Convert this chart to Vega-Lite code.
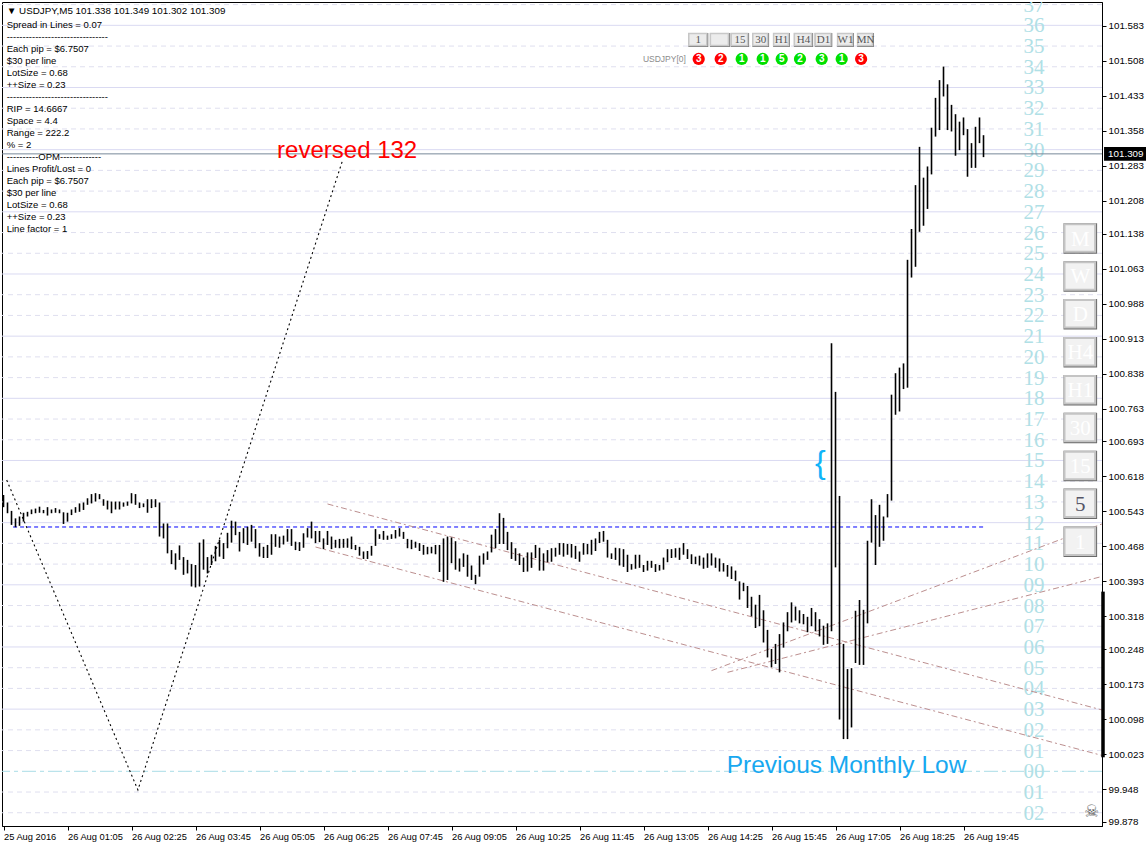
{
 "$schema": "https://vega.github.io/schema/vega-lite/v6.json",
 "width": 1100, "height": 824,
 "autosize": {"type": "none"},
 "padding": {"left": 2, "top": 2, "right": 44, "bottom": 21},
 "background": "white",
 "datasets": {
  "levels": [
   {"k":"02","p":99.8972,"c":"minor"},{"k":"01","p":99.9416,"c":"minor"},{"k":"00","p":99.9860,"c":"zero"},
   {"k":"01","p":100.0304,"c":"minor"},{"k":"02","p":100.0748,"c":"minor"},{"k":"03","p":100.1192,"c":"major"},
   {"k":"04","p":100.1636,"c":"minor"},{"k":"05","p":100.2080,"c":"minor"},{"k":"06","p":100.2524,"c":"major"},
   {"k":"07","p":100.2968,"c":"minor"},{"k":"08","p":100.3412,"c":"minor"},{"k":"09","p":100.3856,"c":"major"},
   {"k":"10","p":100.4300,"c":"minor"},{"k":"11","p":100.4744,"c":"minor"},{"k":"12","p":100.5188,"c":"major"},
   {"k":"13","p":100.5632,"c":"minor"},{"k":"14","p":100.6076,"c":"minor"},{"k":"15","p":100.6520,"c":"major"},
   {"k":"16","p":100.6964,"c":"minor"},{"k":"17","p":100.7408,"c":"minor"},{"k":"18","p":100.7852,"c":"major"},
   {"k":"19","p":100.8296,"c":"minor"},{"k":"20","p":100.8740,"c":"minor"},{"k":"21","p":100.9184,"c":"major"},
   {"k":"22","p":100.9628,"c":"minor"},{"k":"23","p":101.0072,"c":"minor"},{"k":"24","p":101.0516,"c":"major"},
   {"k":"25","p":101.0960,"c":"minor"},{"k":"26","p":101.1404,"c":"minor"},{"k":"27","p":101.1848,"c":"major"},
   {"k":"28","p":101.2292,"c":"minor"},{"k":"29","p":101.2736,"c":"minor"},{"k":"30","p":101.3180,"c":"major"},
   {"k":"31","p":101.3624,"c":"minor"},{"k":"32","p":101.4068,"c":"minor"},{"k":"33","p":101.4512,"c":"major"},
   {"k":"34","p":101.4956,"c":"minor"},{"k":"35","p":101.5400,"c":"minor"},{"k":"36","p":101.5844,"c":"major"},
   {"k":"37","p":101.6288,"c":"minor"}
  ],
  "openline": [{"t1":"2016-08-25T23:57","t2":"2016-08-26T20:12","p":100.5095}],
  "bid": [{"p":101.309,"s":"101.309","t1":"2016-08-26T22:40:40","t2":"2016-08-26T23:35","tc":"2016-08-26T23:07:50","p1":101.3235,"p2":101.2945}],
  "trend": [
   {"id":"A","t":"2016-08-26T06:30","p":100.5588},{"id":"A","t":"2016-08-26T22:38:07","p":100.1174},
   {"id":"B","t":"2016-08-26T06:15","p":100.4666},{"id":"B","t":"2016-08-26T22:38:07","p":100.0200},
   {"id":"C","t":"2016-08-26T14:30","p":100.2017},{"id":"C","t":"2016-08-26T22:38:07","p":100.5160},
   {"id":"D","t":"2016-08-26T14:50","p":100.1980},{"id":"D","t":"2016-08-26T22:38:07","p":100.4035}
  ],
  "zigzag": [
   {"t":"2016-08-25T23:49","p":100.610},{"t":"2016-08-26T02:33","p":99.946},{"t":"2016-08-26T06:49","p":101.296}
  ],
  "spread": [{"t":"2016-08-26T22:38:07","h":100.371,"l":100.016}],
  "bars": [
   {"t":"2016-08-25T23:45","h":100.578,"l":100.552},{"t":"2016-08-25T23:50","h":100.562,"l":100.539},{"t":"2016-08-25T23:55","h":100.544,"l":100.514},
   {"t":"2016-08-26T00:00","h":100.528,"l":100.509},{"t":"2016-08-26T00:05","h":100.532,"l":100.512},{"t":"2016-08-26T00:10","h":100.540,"l":100.521},
   {"t":"2016-08-26T00:15","h":100.542,"l":100.532},{"t":"2016-08-26T00:20","h":100.547,"l":100.537},{"t":"2016-08-26T00:25","h":100.549,"l":100.539},
   {"t":"2016-08-26T00:30","h":100.553,"l":100.540},{"t":"2016-08-26T00:35","h":100.546,"l":100.539},{"t":"2016-08-26T00:40","h":100.552,"l":100.534},
   {"t":"2016-08-26T00:45","h":100.547,"l":100.539},{"t":"2016-08-26T00:50","h":100.550,"l":100.540},{"t":"2016-08-26T00:55","h":100.547,"l":100.539},
   {"t":"2016-08-26T01:00","h":100.541,"l":100.516},{"t":"2016-08-26T01:05","h":100.540,"l":100.521},{"t":"2016-08-26T01:10","h":100.547,"l":100.535},
   {"t":"2016-08-26T01:15","h":100.552,"l":100.540},{"t":"2016-08-26T01:20","h":100.560,"l":100.542},{"t":"2016-08-26T01:25","h":100.562,"l":100.546},
   {"t":"2016-08-26T01:30","h":100.571,"l":100.557},{"t":"2016-08-26T01:35","h":100.580,"l":100.560},{"t":"2016-08-26T01:40","h":100.582,"l":100.564},
   {"t":"2016-08-26T01:45","h":100.580,"l":100.569},{"t":"2016-08-26T01:50","h":100.569,"l":100.555},{"t":"2016-08-26T01:55","h":100.566,"l":100.547},
   {"t":"2016-08-26T02:00","h":100.564,"l":100.539},{"t":"2016-08-26T02:05","h":100.564,"l":100.547},{"t":"2016-08-26T02:10","h":100.564,"l":100.547},
   {"t":"2016-08-26T02:15","h":100.562,"l":100.553},{"t":"2016-08-26T02:20","h":100.564,"l":100.555},{"t":"2016-08-26T02:25","h":100.582,"l":100.560},
   {"t":"2016-08-26T02:30","h":100.580,"l":100.557},{"t":"2016-08-26T02:35","h":100.562,"l":100.550},{"t":"2016-08-26T02:40","h":100.560,"l":100.552},
   {"t":"2016-08-26T02:45","h":100.569,"l":100.540},{"t":"2016-08-26T02:50","h":100.569,"l":100.550},{"t":"2016-08-26T02:55","h":100.569,"l":100.552},
   {"t":"2016-08-26T03:00","h":100.562,"l":100.489},{"t":"2016-08-26T03:05","h":100.517,"l":100.485},{"t":"2016-08-26T03:10","h":100.517,"l":100.453},
   {"t":"2016-08-26T03:15","h":100.460,"l":100.430},{"t":"2016-08-26T03:20","h":100.453,"l":100.418},{"t":"2016-08-26T03:25","h":100.470,"l":100.439},
   {"t":"2016-08-26T03:30","h":100.445,"l":100.407},{"t":"2016-08-26T03:35","h":100.439,"l":100.410},{"t":"2016-08-26T03:40","h":100.430,"l":100.382},
   {"t":"2016-08-26T03:45","h":100.428,"l":100.380},{"t":"2016-08-26T03:50","h":100.476,"l":100.382},{"t":"2016-08-26T03:55","h":100.483,"l":100.418},
   {"t":"2016-08-26T04:00","h":100.445,"l":100.410},{"t":"2016-08-26T04:05","h":100.450,"l":100.428},{"t":"2016-08-26T04:10","h":100.469,"l":100.436},
   {"t":"2016-08-26T04:15","h":100.482,"l":100.446},{"t":"2016-08-26T04:20","h":100.475,"l":100.441},{"t":"2016-08-26T04:25","h":100.497,"l":100.464},
   {"t":"2016-08-26T04:30","h":100.523,"l":100.476},{"t":"2016-08-26T04:35","h":100.521,"l":100.492},{"t":"2016-08-26T04:40","h":100.499,"l":100.457},
   {"t":"2016-08-26T04:45","h":100.507,"l":100.475},{"t":"2016-08-26T04:50","h":100.510,"l":100.471},{"t":"2016-08-26T04:55","h":100.514,"l":100.478},
   {"t":"2016-08-26T05:00","h":100.505,"l":100.464},{"t":"2016-08-26T05:05","h":100.475,"l":100.446},{"t":"2016-08-26T05:10","h":100.467,"l":100.443},
   {"t":"2016-08-26T05:15","h":100.471,"l":100.443},{"t":"2016-08-26T05:20","h":100.494,"l":100.450},{"t":"2016-08-26T05:25","h":100.494,"l":100.467},
   {"t":"2016-08-26T05:30","h":100.489,"l":100.465},{"t":"2016-08-26T05:35","h":100.491,"l":100.472},{"t":"2016-08-26T05:40","h":100.505,"l":100.478},
   {"t":"2016-08-26T05:45","h":100.505,"l":100.469},{"t":"2016-08-26T05:50","h":100.478,"l":100.460},{"t":"2016-08-26T05:55","h":100.477,"l":100.458},
   {"t":"2016-08-26T06:00","h":100.496,"l":100.465},{"t":"2016-08-26T06:05","h":100.507,"l":100.487},{"t":"2016-08-26T06:10","h":100.521,"l":100.485},
   {"t":"2016-08-26T06:15","h":100.501,"l":100.475},{"t":"2016-08-26T06:20","h":100.501,"l":100.477},{"t":"2016-08-26T06:25","h":100.485,"l":100.462},
   {"t":"2016-08-26T06:30","h":100.501,"l":100.471},{"t":"2016-08-26T06:35","h":100.489,"l":100.462},{"t":"2016-08-26T06:40","h":100.482,"l":100.465},
   {"t":"2016-08-26T06:45","h":100.484,"l":100.464},{"t":"2016-08-26T06:50","h":100.484,"l":100.465},{"t":"2016-08-26T06:55","h":100.485,"l":100.465},
   {"t":"2016-08-26T07:00","h":100.489,"l":100.462},{"t":"2016-08-26T07:05","h":100.471,"l":100.460},{"t":"2016-08-26T07:10","h":100.467,"l":100.448},
   {"t":"2016-08-26T07:15","h":100.457,"l":100.441},{"t":"2016-08-26T07:20","h":100.458,"l":100.441},{"t":"2016-08-26T07:25","h":100.469,"l":100.448},
   {"t":"2016-08-26T07:30","h":100.505,"l":100.469},{"t":"2016-08-26T07:35","h":100.494,"l":100.484},{"t":"2016-08-26T07:40","h":100.501,"l":100.482},
   {"t":"2016-08-26T07:45","h":100.491,"l":100.482},{"t":"2016-08-26T07:50","h":100.494,"l":100.484},{"t":"2016-08-26T07:55","h":100.503,"l":100.485},
   {"t":"2016-08-26T08:00","h":100.507,"l":100.489},{"t":"2016-08-26T08:05","h":100.499,"l":100.484},{"t":"2016-08-26T08:10","h":100.484,"l":100.464},
   {"t":"2016-08-26T08:15","h":100.482,"l":100.462},{"t":"2016-08-26T08:20","h":100.478,"l":100.465},{"t":"2016-08-26T08:25","h":100.475,"l":100.458},
   {"t":"2016-08-26T08:30","h":100.471,"l":100.450},{"t":"2016-08-26T08:35","h":100.467,"l":100.451},{"t":"2016-08-26T08:40","h":100.467,"l":100.453},
   {"t":"2016-08-26T08:45","h":100.471,"l":100.451},{"t":"2016-08-26T08:50","h":100.471,"l":100.413},{"t":"2016-08-26T08:55","h":100.485,"l":100.392},
   {"t":"2016-08-26T09:00","h":100.489,"l":100.396},{"t":"2016-08-26T09:05","h":100.487,"l":100.432},{"t":"2016-08-26T09:10","h":100.479,"l":100.418},
   {"t":"2016-08-26T09:15","h":100.442,"l":100.414},{"t":"2016-08-26T09:20","h":100.453,"l":100.424},{"t":"2016-08-26T09:25","h":100.450,"l":100.403},
   {"t":"2016-08-26T09:30","h":100.427,"l":100.396},{"t":"2016-08-26T09:35","h":100.407,"l":100.387},{"t":"2016-08-26T09:40","h":100.448,"l":100.403},
   {"t":"2016-08-26T09:45","h":100.453,"l":100.429},{"t":"2016-08-26T09:50","h":100.457,"l":100.439},{"t":"2016-08-26T09:55","h":100.493,"l":100.455},
   {"t":"2016-08-26T10:00","h":100.505,"l":100.464},{"t":"2016-08-26T10:05","h":100.539,"l":100.473},{"t":"2016-08-26T10:10","h":100.529,"l":100.473},
   {"t":"2016-08-26T10:15","h":100.499,"l":100.460},{"t":"2016-08-26T10:20","h":100.477,"l":100.441},{"t":"2016-08-26T10:25","h":100.464,"l":100.437},
   {"t":"2016-08-26T10:30","h":100.453,"l":100.428},{"t":"2016-08-26T10:35","h":100.444,"l":100.413},{"t":"2016-08-26T10:40","h":100.455,"l":100.414},
   {"t":"2016-08-26T10:45","h":100.455,"l":100.422},{"t":"2016-08-26T10:50","h":100.471,"l":100.443},{"t":"2016-08-26T10:55","h":100.465,"l":100.416},
   {"t":"2016-08-26T11:00","h":100.453,"l":100.416},{"t":"2016-08-26T11:05","h":100.460,"l":100.434},{"t":"2016-08-26T11:10","h":100.464,"l":100.435},
   {"t":"2016-08-26T11:15","h":100.465,"l":100.446},{"t":"2016-08-26T11:20","h":100.475,"l":100.450},{"t":"2016-08-26T11:25","h":100.475,"l":100.446},
   {"t":"2016-08-26T11:30","h":100.473,"l":100.450},{"t":"2016-08-26T11:35","h":100.473,"l":100.444},{"t":"2016-08-26T11:40","h":100.469,"l":100.441},
   {"t":"2016-08-26T11:45","h":100.457,"l":100.435},{"t":"2016-08-26T11:50","h":100.475,"l":100.450},{"t":"2016-08-26T11:55","h":100.473,"l":100.451},
   {"t":"2016-08-26T12:00","h":100.482,"l":100.450},{"t":"2016-08-26T12:05","h":100.485,"l":100.458},{"t":"2016-08-26T12:10","h":100.499,"l":100.475},
   {"t":"2016-08-26T12:15","h":100.501,"l":100.478},{"t":"2016-08-26T12:20","h":100.482,"l":100.444},{"t":"2016-08-26T12:25","h":100.453,"l":100.441},
   {"t":"2016-08-26T12:30","h":100.465,"l":100.439},{"t":"2016-08-26T12:35","h":100.464,"l":100.427},{"t":"2016-08-26T12:40","h":100.462,"l":100.424},
   {"t":"2016-08-26T12:45","h":100.450,"l":100.413},{"t":"2016-08-26T12:50","h":100.430,"l":100.418},{"t":"2016-08-26T12:55","h":100.450,"l":100.420},
   {"t":"2016-08-26T13:00","h":100.450,"l":100.422},{"t":"2016-08-26T13:05","h":100.428,"l":100.413},{"t":"2016-08-26T13:10","h":100.437,"l":100.416},
   {"t":"2016-08-26T13:15","h":100.437,"l":100.422},{"t":"2016-08-26T13:20","h":100.430,"l":100.413},{"t":"2016-08-26T13:25","h":100.428,"l":100.416},
   {"t":"2016-08-26T13:30","h":100.444,"l":100.418},{"t":"2016-08-26T13:35","h":100.462,"l":100.434},{"t":"2016-08-26T13:40","h":100.462,"l":100.443},
   {"t":"2016-08-26T13:45","h":100.464,"l":100.444},{"t":"2016-08-26T13:50","h":100.465,"l":100.439},{"t":"2016-08-26T13:55","h":100.475,"l":100.450},
   {"t":"2016-08-26T14:00","h":100.462,"l":100.441},{"t":"2016-08-26T14:05","h":100.451,"l":100.430},{"t":"2016-08-26T14:10","h":100.446,"l":100.430},
   {"t":"2016-08-26T14:15","h":100.448,"l":100.427},{"t":"2016-08-26T14:20","h":100.444,"l":100.420},{"t":"2016-08-26T14:25","h":100.453,"l":100.422},
   {"t":"2016-08-26T14:30","h":100.453,"l":100.427},{"t":"2016-08-26T14:35","h":100.444,"l":100.422},{"t":"2016-08-26T14:40","h":100.442,"l":100.414},
   {"t":"2016-08-26T14:45","h":100.432,"l":100.414},{"t":"2016-08-26T14:50","h":100.428,"l":100.403},{"t":"2016-08-26T14:55","h":100.425,"l":100.398},
   {"t":"2016-08-26T15:00","h":100.416,"l":100.394},{"t":"2016-08-26T15:05","h":100.393,"l":100.354},{"t":"2016-08-26T15:10","h":100.390,"l":100.372},
   {"t":"2016-08-26T15:15","h":100.383,"l":100.336},{"t":"2016-08-26T15:20","h":100.360,"l":100.318},{"t":"2016-08-26T15:25","h":100.343,"l":100.293},
   {"t":"2016-08-26T15:30","h":100.364,"l":100.297},{"t":"2016-08-26T15:35","h":100.331,"l":100.262},{"t":"2016-08-26T15:40","h":100.289,"l":100.230},
   {"t":"2016-08-26T15:45","h":100.248,"l":100.209},{"t":"2016-08-26T15:50","h":100.259,"l":100.216},{"t":"2016-08-26T15:55","h":100.280,"l":100.198},
   {"t":"2016-08-26T16:00","h":100.305,"l":100.251},{"t":"2016-08-26T16:05","h":100.327,"l":100.286},{"t":"2016-08-26T16:10","h":100.348,"l":100.305},
   {"t":"2016-08-26T16:15","h":100.339,"l":100.309},{"t":"2016-08-26T16:20","h":100.331,"l":100.303},{"t":"2016-08-26T16:25","h":100.323,"l":100.301},
   {"t":"2016-08-26T16:30","h":100.317,"l":100.284},{"t":"2016-08-26T16:35","h":100.336,"l":100.297},{"t":"2016-08-26T16:40","h":100.327,"l":100.286},
   {"t":"2016-08-26T16:45","h":100.312,"l":100.275},{"t":"2016-08-26T16:50","h":100.298,"l":100.257},{"t":"2016-08-26T16:55","h":100.303,"l":100.259},
   {"t":"2016-08-26T17:00","h":100.903,"l":100.286},{"t":"2016-08-26T17:05","h":100.799,"l":100.423},{"t":"2016-08-26T17:10","h":100.576,"l":100.097},
   {"t":"2016-08-26T17:15","h":100.259,"l":100.055},{"t":"2016-08-26T17:20","h":100.205,"l":100.055},{"t":"2016-08-26T17:25","h":100.207,"l":100.080},
   {"t":"2016-08-26T17:30","h":100.330,"l":100.218},{"t":"2016-08-26T17:35","h":100.353,"l":100.214},{"t":"2016-08-26T17:40","h":100.332,"l":100.214},
   {"t":"2016-08-26T17:45","h":100.480,"l":100.303},{"t":"2016-08-26T17:50","h":100.569,"l":100.476},{"t":"2016-08-26T17:55","h":100.535,"l":100.428},
   {"t":"2016-08-26T18:00","h":100.557,"l":100.467},{"t":"2016-08-26T18:05","h":100.532,"l":100.480},{"t":"2016-08-26T18:10","h":100.580,"l":100.530},
   {"t":"2016-08-26T18:15","h":100.793,"l":100.566},{"t":"2016-08-26T18:20","h":100.839,"l":100.750},{"t":"2016-08-26T18:25","h":100.851,"l":100.757},
   {"t":"2016-08-26T18:30","h":100.860,"l":100.805},{"t":"2016-08-26T18:35","h":101.082,"l":100.808},{"t":"2016-08-26T18:40","h":101.148,"l":101.044},
   {"t":"2016-08-26T18:45","h":101.242,"l":101.067},{"t":"2016-08-26T18:50","h":101.324,"l":101.142},{"t":"2016-08-26T18:55","h":101.258,"l":101.155},
   {"t":"2016-08-26T19:00","h":101.282,"l":101.191},{"t":"2016-08-26T19:05","h":101.365,"l":101.265},{"t":"2016-08-26T19:10","h":101.429,"l":101.346},
   {"t":"2016-08-26T19:15","h":101.467,"l":101.360},{"t":"2016-08-26T19:20","h":101.496,"l":101.432},{"t":"2016-08-26T19:25","h":101.458,"l":101.360},
   {"t":"2016-08-26T19:30","h":101.414,"l":101.357},{"t":"2016-08-26T19:35","h":101.394,"l":101.305},{"t":"2016-08-26T19:40","h":101.378,"l":101.317},
   {"t":"2016-08-26T19:45","h":101.387,"l":101.349},{"t":"2016-08-26T19:50","h":101.362,"l":101.260},{"t":"2016-08-26T19:55","h":101.332,"l":101.279},
   {"t":"2016-08-26T20:00","h":101.367,"l":101.279},{"t":"2016-08-26T20:05","h":101.387,"l":101.332},{"t":"2016-08-26T20:10","h":101.349,"l":101.302}
  ],
  "header": [{"t":"2016-08-25T23:49","p":101.6158,"s":"▼ USDJPY,M5  101.338 101.349 101.302 101.309"}],
  "panel": [{"t":"2016-08-25T23:49","p":101.5958,"lines":["Spread in Lines = 0.07","--------------------------------","Each pip = $6.7507","$30 per line","LotSize = 0.68","++Size = 0.23","--------------------------------","RIP = 14.6667","Space = 4.4","Range = 222.2","% = 2","----------OPM-------------","Lines Profit/Lost = 0","Each pip = $6.7507","$30 per line","LotSize = 0.68","++Size = 0.23","Line factor = 1"]}],
  "redtext": [{"t":"2016-08-26T05:27","p":101.300,"s":"reversed 132"}],
  "bluetext": [{"t":"2016-08-26T14:49","p":99.9824,"s":"Previous Monthly Low"}],
  "brace": [{"t":"2016-08-26T16:46","p":100.6456,"s":"{"}],
  "skull": [{"t":"2016-08-26T22:25","p":99.8985,"s":"☠"}],
  "rb": [
   {"b":"M","p1":101.1602,"p2":101.0949,"pc":101.1276,"sel":false,"t1":"2016-08-26T21:50","t2":"2016-08-26T22:32","tc":"2016-08-26T22:11"},
   {"b":"W","p1":101.0790,"p2":101.0137,"pc":101.0464,"sel":false,"t1":"2016-08-26T21:50","t2":"2016-08-26T22:32","tc":"2016-08-26T22:11"},
   {"b":"D","p1":100.9978,"p2":100.9325,"pc":100.9652,"sel":false,"t1":"2016-08-26T21:50","t2":"2016-08-26T22:32","tc":"2016-08-26T22:11"},
   {"b":"H4","p1":100.9166,"p2":100.8513,"pc":100.8840,"sel":false,"t1":"2016-08-26T21:50","t2":"2016-08-26T22:32","tc":"2016-08-26T22:11"},
   {"b":"H1","p1":100.8354,"p2":100.7700,"pc":100.8027,"sel":false,"t1":"2016-08-26T21:50","t2":"2016-08-26T22:32","tc":"2016-08-26T22:11"},
   {"b":"30","p1":100.7542,"p2":100.6888,"pc":100.7215,"sel":false,"t1":"2016-08-26T21:50","t2":"2016-08-26T22:32","tc":"2016-08-26T22:11"},
   {"b":"15","p1":100.6730,"p2":100.6076,"pc":100.6403,"sel":false,"t1":"2016-08-26T21:50","t2":"2016-08-26T22:32","tc":"2016-08-26T22:11"},
   {"b":"5","p1":100.5918,"p2":100.5264,"pc":100.5591,"sel":true,"t1":"2016-08-26T21:50","t2":"2016-08-26T22:32","tc":"2016-08-26T22:11"},
   {"b":"1","p1":100.5106,"p2":100.4452,"pc":100.4779,"sel":false,"t1":"2016-08-26T21:50","t2":"2016-08-26T22:32","tc":"2016-08-26T22:11"}
  ],
  "tf": [
   {"b":"1","t1":"2016-08-26T14:01","t2":"2016-08-26T14:26","tc":"2016-08-26T14:13:30"},
   {"b":"","t1":"2016-08-26T14:28","t2":"2016-08-26T14:53","tc":"2016-08-26T14:40:30"},
   {"b":"15","t1":"2016-08-26T14:54","t2":"2016-08-26T15:17","tc":"2016-08-26T15:05:30"},
   {"b":"30","t1":"2016-08-26T15:21","t2":"2016-08-26T15:42","tc":"2016-08-26T15:31:30"},
   {"b":"H1","t1":"2016-08-26T15:47","t2":"2016-08-26T16:08","tc":"2016-08-26T15:57:30"},
   {"b":"H4","t1":"2016-08-26T16:13","t2":"2016-08-26T16:37","tc":"2016-08-26T16:25"},
   {"b":"D1","t1":"2016-08-26T16:39","t2":"2016-08-26T17:01","tc":"2016-08-26T16:50"},
   {"b":"W1","t1":"2016-08-26T17:07","t2":"2016-08-26T17:28","tc":"2016-08-26T17:17:30"},
   {"b":"MN","t1":"2016-08-26T17:32","t2":"2016-08-26T17:53","tc":"2016-08-26T17:42:30"}
  ],
  "sig": [
   {"n":"3","s":"dn","t":"2016-08-26T14:14"},{"n":"2","s":"dn","t":"2016-08-26T14:41:30"},{"n":"1","s":"up","t":"2016-08-26T15:07:45"},
   {"n":"1","s":"up","t":"2016-08-26T15:34"},{"n":"5","s":"up","t":"2016-08-26T15:57:45"},{"n":"2","s":"up","t":"2016-08-26T16:20:36"},
   {"n":"3","s":"up","t":"2016-08-26T16:47:45"},{"n":"1","s":"up","t":"2016-08-26T17:12:45"},{"n":"3","s":"dn","t":"2016-08-26T17:37"}
  ],
  "sym": [{"t":"2016-08-26T13:58","p":101.5123,"s":"USDJPY[0]"}]
 },
 "layer": [
  {
   "data": {"name": "levels"},
   "mark": {"type": "rule", "strokeWidth": 1},
   "encoding": {
    "y": {"field": "p", "type": "quantitative",
          "scale": {"domain": [99.8688, 101.6344], "nice": false, "zero": false},
          "axis": {"orient": "right", "title": null, "format": ".3f", "grid": false, "labelFontSize": 9.8, "labelOverlap": false, "labelBound": false, "labelFlush": false, "tickCount": 40,
                   "values": [99.878, 99.948, 100.023, 100.098, 100.173, 100.248, 100.318, 100.393, 100.468, 100.543, 100.618, 100.693, 100.763, 100.838, 100.913, 100.988, 101.063, 101.138, 101.208, 101.283, 101.358, 101.433, 101.508, 101.583]}},
    "color": {"condition": [{"test": "datum.c == 'zero'", "value": "#a9dde6"}, {"test": "datum.c == 'major'", "value": "#dadaf2"}], "value": "#dfdfef"},
    "strokeDash": {"condition": [{"test": "datum.c == 'zero'", "value": [14, 4, 4, 4]}, {"test": "datum.c == 'major'", "value": [1, 0]}], "value": [5, 4]}
   }
  },
  {
   "data": {"name": "levels"},
   "mark": {"type": "text", "font": "Liberation Serif", "fontSize": 21, "color": "#b0e0e6", "align": "center", "baseline": "middle", "dy": 1, "clip": true},
   "encoding": {
    "x": {"datum": {"year": 2016, "month": 8, "date": 26, "hours": 21, "minutes": 13}, "type": "temporal"},
    "y": {"field": "p", "type": "quantitative"},
    "text": {"field": "k", "type": "nominal"}
   }
  },
  {
   "data": {"name": "openline"},
   "mark": {"type": "rule", "color": "#0000ff", "strokeWidth": 1, "strokeDash": [4, 3]},
   "encoding": {
    "x": {"field": "t1", "type": "temporal"},
    "x2": {"field": "t2"},
    "y": {"field": "p", "type": "quantitative"}
   }
  },
  {
   "data": {"name": "bid"},
   "mark": {"type": "rule", "color": "#778899", "strokeWidth": 1},
   "encoding": {"y": {"field": "p", "type": "quantitative"}}
  },
  {
   "data": {"name": "trend"},
   "mark": {"type": "line", "color": "#bc8f8f", "strokeWidth": 1, "strokeDash": [6, 3, 2, 3], "clip": true},
   "encoding": {
    "x": {"field": "t", "type": "temporal"},
    "y": {"field": "p", "type": "quantitative"},
    "detail": {"field": "id", "type": "nominal"}
   }
  },
  {
   "data": {"name": "zigzag"},
   "mark": {"type": "line", "color": "#000000", "strokeWidth": 1.1, "strokeDash": [2, 3]},
   "encoding": {
    "x": {"field": "t", "type": "temporal"},
    "y": {"field": "p", "type": "quantitative"}
   }
  },
  {
   "data": {"name": "bars"},
   "mark": {"type": "rule", "color": "#000000", "strokeWidth": 1.6},
   "encoding": {
    "x": {"field": "t", "type": "temporal",
          "scale": {"domain": [{"year": 2016, "month": 8, "date": 25, "hours": 23, "minutes": 43, "seconds": 7}, {"year": 2016, "month": 8, "date": 26, "hours": 22, "minutes": 38, "seconds": 7}], "nice": false},
          "axis": {"title": null, "grid": false, "labelAlign": "left", "labelFontSize": 9.3, "labelOverlap": false, "labelFlush": false, "labelBound": false, "tickCount": 40,
                   "labelExpr": "timeFormat(datum.value, '%d') == '25' ? '25 Aug 2016' : timeFormat(datum.value, '%d %b %H:%M')",
                   "values": [
                    {"year": 2016, "month": 8, "date": 25, "hours": 23, "minutes": 45},
                    {"year": 2016, "month": 8, "date": 26, "hours": 1, "minutes": 5},
                    {"year": 2016, "month": 8, "date": 26, "hours": 2, "minutes": 25},
                    {"year": 2016, "month": 8, "date": 26, "hours": 3, "minutes": 45},
                    {"year": 2016, "month": 8, "date": 26, "hours": 5, "minutes": 5},
                    {"year": 2016, "month": 8, "date": 26, "hours": 6, "minutes": 25},
                    {"year": 2016, "month": 8, "date": 26, "hours": 7, "minutes": 45},
                    {"year": 2016, "month": 8, "date": 26, "hours": 9, "minutes": 5},
                    {"year": 2016, "month": 8, "date": 26, "hours": 10, "minutes": 25},
                    {"year": 2016, "month": 8, "date": 26, "hours": 11, "minutes": 45},
                    {"year": 2016, "month": 8, "date": 26, "hours": 13, "minutes": 5},
                    {"year": 2016, "month": 8, "date": 26, "hours": 14, "minutes": 25},
                    {"year": 2016, "month": 8, "date": 26, "hours": 15, "minutes": 45},
                    {"year": 2016, "month": 8, "date": 26, "hours": 17, "minutes": 5},
                    {"year": 2016, "month": 8, "date": 26, "hours": 18, "minutes": 25},
                    {"year": 2016, "month": 8, "date": 26, "hours": 19, "minutes": 45}
                   ]}},
    "y": {"field": "h", "type": "quantitative"},
    "y2": {"field": "l"}
   }
  },
  {
   "data": {"name": "spread"},
   "mark": {"type": "rule", "color": "#000000", "strokeWidth": 3.5, "xOffset": 1, "clip": false},
   "encoding": {
    "x": {"field": "t", "type": "temporal"},
    "y": {"field": "h", "type": "quantitative"},
    "y2": {"field": "l"}
   }
  },
  {
   "data": {"name": "header"},
   "mark": {"type": "text", "font": "Liberation Sans", "fontSize": 9.8, "color": "#000000", "align": "left", "baseline": "middle"},
   "encoding": {
    "x": {"field": "t", "type": "temporal"},
    "y": {"field": "p", "type": "quantitative"},
    "text": {"field": "s", "type": "nominal"}
   }
  },
  {
   "data": {"name": "panel"},
   "mark": {"type": "text", "font": "Liberation Sans", "fontSize": 9.5, "color": "#000000", "align": "left", "baseline": "top", "lineHeight": 12},
   "encoding": {
    "x": {"field": "t", "type": "temporal"},
    "y": {"field": "p", "type": "quantitative"},
    "text": {"field": "lines", "type": "nominal"}
   }
  },
  {
   "data": {"name": "redtext"},
   "mark": {"type": "text", "font": "Liberation Sans", "fontSize": 24, "color": "#ff0000", "align": "left", "baseline": "alphabetic"},
   "encoding": {
    "x": {"field": "t", "type": "temporal"},
    "y": {"field": "p", "type": "quantitative"},
    "text": {"field": "s", "type": "nominal"}
   }
  },
  {
   "data": {"name": "bluetext"},
   "mark": {"type": "text", "font": "Liberation Sans", "fontSize": 24.5, "color": "#18a8f0", "align": "left", "baseline": "alphabetic"},
   "encoding": {
    "x": {"field": "t", "type": "temporal"},
    "y": {"field": "p", "type": "quantitative"},
    "text": {"field": "s", "type": "nominal"}
   }
  },
  {
   "data": {"name": "brace"},
   "mark": {"type": "text", "font": "Liberation Sans", "fontSize": 32, "color": "#10b4f8", "align": "center", "baseline": "middle"},
   "encoding": {
    "x": {"field": "t", "type": "temporal"},
    "y": {"field": "p", "type": "quantitative"},
    "text": {"field": "s", "type": "nominal"}
   }
  },
  {
   "data": {"name": "skull"},
   "mark": {"type": "text", "font": "DejaVu Sans", "fontSize": 17, "color": "#555555", "align": "center", "baseline": "middle"},
   "encoding": {
    "x": {"field": "t", "type": "temporal"},
    "y": {"field": "p", "type": "quantitative"},
    "text": {"field": "s", "type": "nominal"}
   }
  },
  {
   "data": {"name": "rb"},
   "mark": {"type": "rect", "fill": "#6a6a6a"},
   "encoding": {
    "x": {"field": "t1", "type": "temporal"}, "x2": {"field": "t2"},
    "y": {"field": "p1", "type": "quantitative"}, "y2": {"field": "p2"}
   }
  },
  {
   "data": {"name": "rb"},
   "mark": {"type": "rect", "fill": "#f2f2f2", "stroke": "#c4c4c4", "strokeWidth": 2, "xOffset": 1, "yOffset": 1, "x2Offset": -2, "y2Offset": -2},
   "encoding": {
    "x": {"field": "t1", "type": "temporal"}, "x2": {"field": "t2"},
    "y": {"field": "p1", "type": "quantitative"}, "y2": {"field": "p2"}
   }
  },
  {
   "data": {"name": "rb"},
   "mark": {"type": "text", "font": "Liberation Serif", "fontSize": 21, "align": "center", "baseline": "middle", "dy": 1},
   "encoding": {
    "x": {"field": "tc", "type": "temporal"},
    "y": {"field": "pc", "type": "quantitative"},
    "text": {"field": "b", "type": "nominal"},
    "color": {"condition": {"test": "datum.sel", "value": "#555566"}, "value": "#ffffff"}
   }
  },
  {
   "data": {"name": "tf"},
   "mark": {"type": "rect", "fill": "#7a7a7a"},
   "encoding": {
    "x": {"field": "t1", "type": "temporal"}, "x2": {"field": "t2"},
    "y": {"datum": 101.568, "type": "quantitative"}, "y2": {"datum": 101.538}
   }
  },
  {
   "data": {"name": "tf"},
   "mark": {"type": "rect", "fill": "#ececec", "stroke": "#c8c8c8", "strokeWidth": 1.5, "xOffset": 0.5, "yOffset": 0.5, "x2Offset": -1.5, "y2Offset": -1.5},
   "encoding": {
    "x": {"field": "t1", "type": "temporal"}, "x2": {"field": "t2"},
    "y": {"datum": 101.568, "type": "quantitative"}, "y2": {"datum": 101.538}
   }
  },
  {
   "data": {"name": "tf"},
   "mark": {"type": "text", "font": "Liberation Serif", "fontSize": 11, "color": "#555555", "align": "center", "baseline": "middle"},
   "encoding": {
    "x": {"field": "tc", "type": "temporal"},
    "y": {"datum": 101.553, "type": "quantitative"},
    "text": {"field": "b", "type": "nominal"}
   }
  },
  {
   "data": {"name": "sig"},
   "mark": {"type": "point", "shape": "circle", "filled": true, "size": 150, "opacity": 1},
   "encoding": {
    "x": {"field": "t", "type": "temporal"},
    "y": {"datum": 101.5123, "type": "quantitative"},
    "color": {"condition": {"test": "datum.s == 'dn'", "value": "#ff0000"}, "value": "#00e000"}
   }
  },
  {
   "data": {"name": "sig"},
   "mark": {"type": "text", "font": "Liberation Sans", "fontSize": 10, "fontWeight": "bold", "color": "#ffffff", "align": "center", "baseline": "middle", "dy": 0.5},
   "encoding": {
    "x": {"field": "t", "type": "temporal"},
    "y": {"datum": 101.5123, "type": "quantitative"},
    "text": {"field": "n", "type": "nominal"}
   }
  },
  {
   "data": {"name": "sym"},
   "mark": {"type": "text", "font": "Liberation Sans", "fontSize": 8.5, "color": "#8c8c8c", "align": "right", "baseline": "middle"},
   "encoding": {
    "x": {"field": "t", "type": "temporal"},
    "y": {"field": "p", "type": "quantitative"},
    "text": {"field": "s", "type": "nominal"}
   }
  },
  {
   "data": {"name": "bid"},
   "mark": {"type": "rect", "fill": "#000000", "clip": false},
   "encoding": {
    "x": {"field": "t1", "type": "temporal"}, "x2": {"field": "t2"},
    "y": {"field": "p1", "type": "quantitative"}, "y2": {"field": "p2"}
   }
  },
  {
   "data": {"name": "bid"},
   "mark": {"type": "text", "font": "Liberation Sans", "fontSize": 9.8, "color": "#ffffff", "align": "center", "baseline": "middle", "clip": false},
   "encoding": {
    "x": {"field": "tc", "type": "temporal"},
    "y": {"field": "p", "type": "quantitative"},
    "text": {"field": "s", "type": "nominal"}
   }
  }
 ],
 "config": {
  "view": {"stroke": "#000000", "strokeWidth": 1},
  "axis": {"labelFont": "Liberation Sans", "labelColor": "#000000", "tickColor": "#000000", "domainColor": "#000000", "tickSize": 4, "labelPadding": 2, "grid": false}
 }
}
